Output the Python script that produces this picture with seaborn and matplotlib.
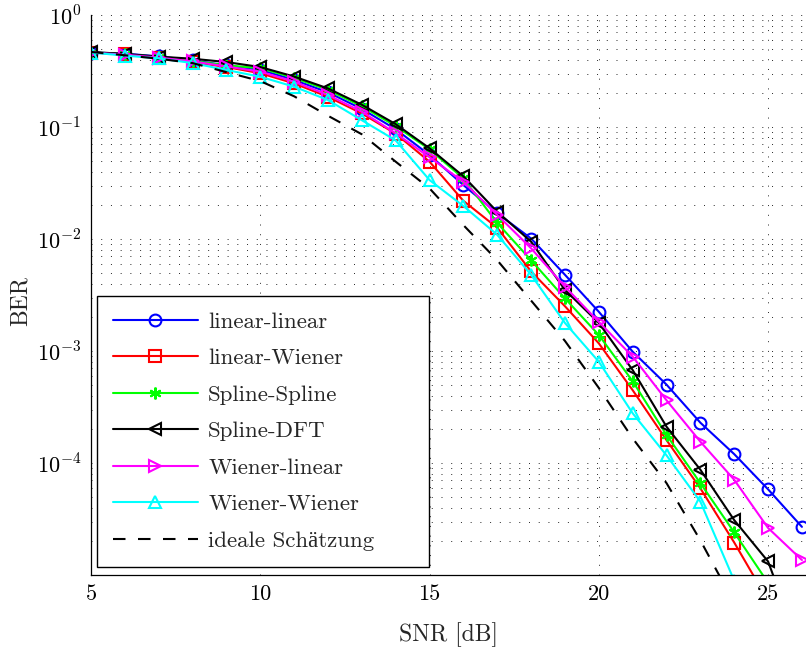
import numpy as np
import pandas as pd
import matplotlib
matplotlib.use('Agg')
import matplotlib.pyplot as plt
import seaborn as sns

# --- Daten (BER über SNR) ---
snr = list(range(5, 27))

ber_lin_lin = [0.462, 0.452, 0.427, 0.394, 0.355, 0.324, 0.263, 0.204, 0.145, 0.0955,
               0.0562, 0.0303, 0.0170, 0.0101, 0.00479, 0.00224, 0.000986, 0.000501,
               0.000229, 0.000120, 5.82e-5, 2.69e-5]
ber_lin_wien = [0.462, 0.447, 0.417, 0.380, 0.343, 0.302, 0.245, 0.186, 0.132, 0.0871,
                0.0490, 0.0219, 0.0126, 0.00513, 0.00251, 0.00117, 0.000447, 0.000160,
                5.94e-5, 1.95e-5, 5.9e-6]
ber_spl_spl = [0.462, 0.447, 0.422, 0.389, 0.355, 0.335, 0.275, 0.214, 0.153, 0.102,
               0.0631, 0.0347, 0.0139, 0.00646, 0.00295, 0.00139, 0.000537, 0.000178,
               6.61e-5, 2.40e-5, 8.5e-6]
ber_spl_dft = [0.468, 0.449, 0.425, 0.407, 0.380, 0.343, 0.282, 0.221, 0.158, 0.106,
               0.0646, 0.0363, 0.0175, 0.00946, 0.00351, 0.00178, 0.000676, 0.000211,
               8.71e-5, 3.09e-5, 1.32e-5, 2.0e-6]
ber_wien_lin = [0.462, 0.442, 0.417, 0.385, 0.347, 0.312, 0.254, 0.193, 0.137, 0.0879,
                0.0537, 0.0324, 0.0164, 0.00826, 0.00375, 0.00182, 0.000891, 0.000363,
                0.000155, 7.08e-5, 2.63e-5, 1.36e-5]
ber_wien_wien = [0.462, 0.434, 0.410, 0.372, 0.323, 0.281, 0.229, 0.174, 0.115, 0.0759,
                 0.0336, 0.0197, 0.0109, 0.00479, 0.00178, 0.000802, 0.000278, 0.000117,
                 4.52e-5, 8.9e-6]
ber_ideal = [0.468, 0.437, 0.407, 0.372, 0.309, 0.257, 0.188, 0.126, 0.0861, 0.0490,
             0.0283, 0.0133, 0.00646, 0.00282, 0.00123, 0.000468, 0.000166, 6.61e-5,
             2.04e-5, 5.6e-6]

labels = ['linear-linear', 'linear-Wiener', 'Spline-Spline', 'Spline-DFT',
          'Wiener-linear', 'Wiener-Wiener', 'ideale Schätzung']
series = [ber_lin_lin, ber_lin_wien, ber_spl_spl, ber_spl_dft,
          ber_wien_lin, ber_wien_wien, ber_ideal]

xticks = [5, 10, 15, 20, 25]
yticks = [1e-4, 1e-3, 1e-2, 1e-1, 1]
ytick_labels = [r'$10^{-4}$', r'$10^{-3}$', r'$10^{-2}$', r'$10^{-1}$', r'$10^{0}$']

# --- Stil ---
colors = ['#0000ff', '#ff0000', '#00ff00', '#000000', '#ff00ff', '#00ffff', '#000000']
markers = ['o', 's', (6, 2, 0), '<', '>', '^', None]

sns.set_style('white')
plt.rcParams['font.family'] = ['cmr10', 'Liberation Serif', 'DejaVu Serif']
plt.rcParams['mathtext.fontset'] = 'cm'
plt.rcParams['axes.formatter.use_mathtext'] = True
plt.rcParams['axes.unicode_minus'] = False

fig = plt.figure(figsize=(8.06, 6.51), dpi=100)
ax = fig.add_axes([91 / 806, 76 / 651, 715 / 806, 560 / 651])
ax.set_yscale('log')

for lab, vals, col, mk in zip(labels, series, colors, markers):
    df = pd.DataFrame({'SNR': snr[:len(vals)], 'BER': vals})
    kw = dict(x='SNR', y='BER', data=df, ax=ax, color=col, label=lab,
              linewidth=1.5, legend=False)
    if mk is None:
        sns.lineplot(**kw, dashes=False, linestyle=(0, (6, 6)))
    else:
        sns.lineplot(**kw, marker=mk, markersize=8.5, markerfacecolor='none',
                     markeredgecolor=col, markeredgewidth=1.5)

ax.set_xlim(5, 26.12)
ax.set_ylim(1e-5, 1)
ax.set_xticks(xticks)
ax.set_xticklabels([str(t) for t in xticks])
ax.set_yticks(yticks)
ax.set_yticklabels(ytick_labels)
ax.yaxis.set_minor_locator(matplotlib.ticker.LogLocator(base=10, subs=np.arange(2, 10), numticks=20))
ax.yaxis.set_minor_formatter(matplotlib.ticker.NullFormatter())

# Gitter gepunktet wie in MATLAB
ax.set_axisbelow(True)
ax.grid(True, which='major', axis='both', color='0.15', linestyle=(0, (1, 9)), linewidth=0.7)
ax.yaxis.grid(True, which='minor', color='0.15', linestyle=(0, (1, 9)), linewidth=0.7)

for s in ['top', 'right']:
    ax.spines[s].set_visible(False)
for s in ['left', 'bottom']:
    ax.spines[s].set_color('black')
    ax.spines[s].set_linewidth(0.9)

ax.tick_params(axis='both', which='major', direction='in', length=6, width=0.8,
               labelsize=16, pad=7, colors='black')
ax.tick_params(axis='y', which='minor', direction='in', length=3.5, width=0.6)
ax.tick_params(axis='x', which='minor', bottom=False)

ax.set_xlabel('SNR [dB]', fontsize=17)
ax.set_ylabel('BER', fontsize=17)
ax.xaxis.set_label_coords(0.5, -0.084)
ax.yaxis.set_label_coords(-0.083, 0.49)

leg = ax.legend(loc='lower left', bbox_to_anchor=(0.0084, 0.0143, 0.464, 0.48),
                mode='expand', fontsize=16.5, frameon=True, fancybox=False,
                edgecolor='black', framealpha=1, handlelength=3.7,
                handletextpad=0.45, labelspacing=0.72, borderpad=0.7,
                borderaxespad=0)
leg.get_frame().set_linewidth(1.0)

fig.savefig('out.png', dpi=100)
